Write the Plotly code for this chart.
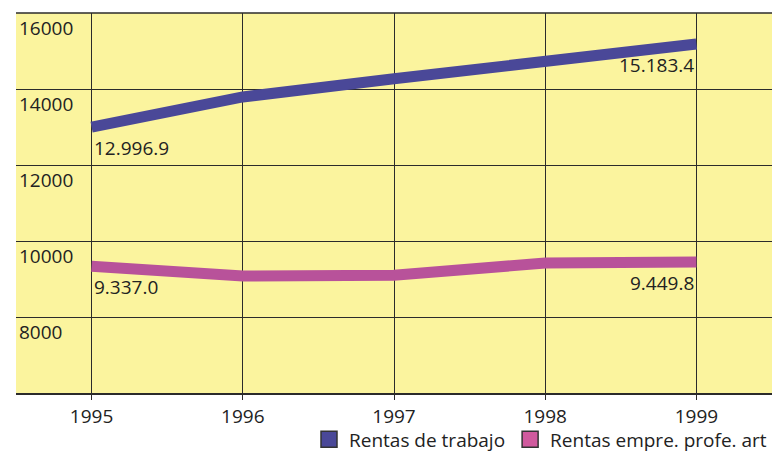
import plotly.graph_objects as go

years = [1995, 1996, 1997, 1998, 1999]
rentas_trabajo = [12996.9, 13790, 14270, 14740, 15183.4]
rentas_empre = [9337.0, 9080, 9100, 9420, 9449.8]
label_trabajo = ["12.996.9", "", "", "", "15.183.4"]
label_empre = ["9.337.0", "", "", "", "9.449.8"]
y_ticks = [8000, 10000, 12000, 14000, 16000]
series_names = ["Rentas de trabajo", "Rentas empre. profe. art"]

blue = "#4a4898"
pink = "#b8529a"
legend_pink = "#d05a9e"
font_family = "Open Sans, Noto Sans, sans-serif"
fs = 19

fig = go.Figure()
fig.add_trace(go.Scatter(x=years, y=rentas_trabajo, mode="lines",
                         line=dict(color=blue, width=11), showlegend=False, hoverinfo="skip"))
fig.add_trace(go.Scatter(x=years, y=rentas_empre, mode="lines",
                         line=dict(color=pink, width=11), showlegend=False, hoverinfo="skip"))

# value labels
for i in (0, 4):
    anchor = "left" if i == 0 else "right"
    fig.add_annotation(x=years[i], y=rentas_trabajo[i], text=label_trabajo[i],
                       showarrow=False, xanchor=anchor, yanchor="top", yshift=-6,
                       font=dict(size=fs, color="#222"))
    fig.add_annotation(x=years[i], y=rentas_empre[i], text=label_empre[i],
                       showarrow=False, xanchor=anchor, yanchor="top", yshift=-6,
                       font=dict(size=fs, color="#222"))

# y tick labels drawn inside the plot, below each gridline
for v in y_ticks:
    fig.add_annotation(x=0, xref="paper", y=v, yref="y", text=str(v),
                       showarrow=False, xanchor="left", yanchor="top",
                       xshift=1, yshift=0, font=dict(size=fs, color="#222"))

# legend entries as squares
for name, col in zip(series_names, [blue, legend_pink]):
    fig.add_trace(go.Scatter(x=[None], y=[None], mode="markers", name=name,
                             marker=dict(symbol="square", size=17, color=col,
                                         line=dict(color="#333", width=1.5))))

fig.update_layout(
    width=772, height=463,
    margin=dict(l=16, r=0, t=13, b=70, autoexpand=False),
    paper_bgcolor="white",
    plot_bgcolor="#fbf49e",
    font=dict(family=font_family, size=fs, color="#222"),
    legend=dict(orientation="h", x=1.0, xanchor="right", y=-0.072, yanchor="top",
                font=dict(size=fs), itemsizing="trace", itemwidth=30,
                traceorder="normal", tracegroupgap=0, bgcolor="rgba(0,0,0,0)"),
)
fig.update_xaxes(range=[1994.5, 1999.5], tickvals=years, ticktext=[str(y) for y in years],
                 showgrid=True, gridcolor="#2b2b2b", gridwidth=1.3,
                 showline=True, linecolor="#2b2b2b", linewidth=1.5,
                 ticks="outside", ticklen=5, tickcolor="#2b2b2b", tickwidth=1.3,
                 tickfont=dict(size=fs),
                 zeroline=False, fixedrange=True)
fig.update_yaxes(range=[6000, 16000], tickvals=y_ticks, showticklabels=False,
                 showgrid=True, gridcolor="#2b2b2b", gridwidth=1.3,
                 showline=False, zeroline=False, ticks="", fixedrange=True)
fig.add_shape(type="line", xref="paper", yref="paper", x0=0, x1=1, y0=1, y1=1,
              line=dict(color="#2b2b2b", width=1.5))

fig.write_html("out.html", config={"displayModeBar": False},
               post_script="document.body.style.margin='0';")
